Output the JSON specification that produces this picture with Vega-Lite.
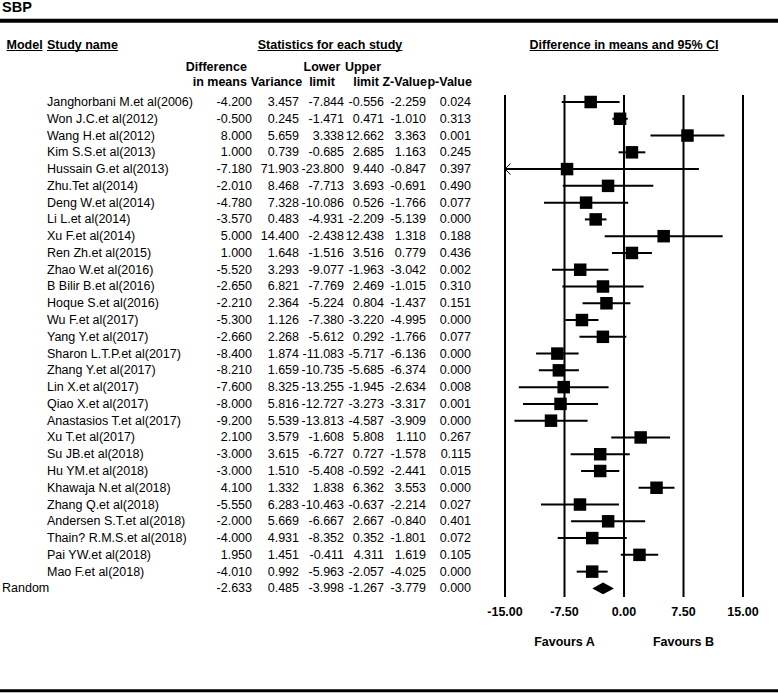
{
  "$schema": "https://vega.github.io/schema/vega-lite/v6.json",
  "width": 778,
  "height": 693,
  "autosize": "none",
  "padding": 0,
  "background": "white",
  "config": {
    "view": {"stroke": null},
    "locale": {"number": {"decimal": ".", "thousands": ",", "grouping": [3], "currency": ["$", ""], "minus": "-"}},
    "text": {"font": "Liberation Sans", "fontSize": 12.5, "color": "black", "baseline": "middle"},
    "rule": {"color": "black"}
  },
  "datasets": {
    "studies": [
      {"row": 1, "study": "Janghorbani M.et al(2006)", "diff": -4.2, "var": 3.457, "lower": -7.844, "upper": -0.556, "z": -2.259, "p": 0.024},
      {"row": 2, "study": "Won J.C.et al(2012)", "diff": -0.5, "var": 0.245, "lower": -1.471, "upper": 0.471, "z": -1.01, "p": 0.313},
      {"row": 3, "study": "Wang H.et al(2012)", "diff": 8.0, "var": 5.659, "lower": 3.338, "upper": 12.662, "z": 3.363, "p": 0.001},
      {"row": 4, "study": "Kim S.S.et al(2013)", "diff": 1.0, "var": 0.739, "lower": -0.685, "upper": 2.685, "z": 1.163, "p": 0.245},
      {"row": 5, "study": "Hussain G.et al(2013)", "diff": -7.18, "var": 71.903, "lower": -23.8, "upper": 9.44, "z": -0.847, "p": 0.397},
      {"row": 6, "study": "Zhu.Tet al(2014)", "diff": -2.01, "var": 8.468, "lower": -7.713, "upper": 3.693, "z": -0.691, "p": 0.49},
      {"row": 7, "study": "Deng W.et al(2014)", "diff": -4.78, "var": 7.328, "lower": -10.086, "upper": 0.526, "z": -1.766, "p": 0.077},
      {"row": 8, "study": "Li L.et al(2014)", "diff": -3.57, "var": 0.483, "lower": -4.931, "upper": -2.209, "z": -5.139, "p": 0.0},
      {"row": 9, "study": "Xu F.et al(2014)", "diff": 5.0, "var": 14.4, "lower": -2.438, "upper": 12.438, "z": 1.318, "p": 0.188},
      {"row": 10, "study": "Ren Zh.et al(2015)", "diff": 1.0, "var": 1.648, "lower": -1.516, "upper": 3.516, "z": 0.779, "p": 0.436},
      {"row": 11, "study": "Zhao W.et al(2016)", "diff": -5.52, "var": 3.293, "lower": -9.077, "upper": -1.963, "z": -3.042, "p": 0.002},
      {"row": 12, "study": "B Bilir B.et al(2016)", "diff": -2.65, "var": 6.821, "lower": -7.769, "upper": 2.469, "z": -1.015, "p": 0.31},
      {"row": 13, "study": "Hoque S.et al(2016)", "diff": -2.21, "var": 2.364, "lower": -5.224, "upper": 0.804, "z": -1.437, "p": 0.151},
      {"row": 14, "study": "Wu F.et al(2017)", "diff": -5.3, "var": 1.126, "lower": -7.38, "upper": -3.22, "z": -4.995, "p": 0.0},
      {"row": 15, "study": "Yang Y.et al(2017)", "diff": -2.66, "var": 2.268, "lower": -5.612, "upper": 0.292, "z": -1.766, "p": 0.077},
      {"row": 16, "study": "Sharon L.T.P.et al(2017)", "diff": -8.4, "var": 1.874, "lower": -11.083, "upper": -5.717, "z": -6.136, "p": 0.0},
      {"row": 17, "study": "Zhang Y.et al(2017)", "diff": -8.21, "var": 1.659, "lower": -10.735, "upper": -5.685, "z": -6.374, "p": 0.0},
      {"row": 18, "study": "Lin X.et al(2017)", "diff": -7.6, "var": 8.325, "lower": -13.255, "upper": -1.945, "z": -2.634, "p": 0.008},
      {"row": 19, "study": "Qiao X.et al(2017)", "diff": -8.0, "var": 5.816, "lower": -12.727, "upper": -3.273, "z": -3.317, "p": 0.001},
      {"row": 20, "study": "Anastasios T.et al(2017)", "diff": -9.2, "var": 5.539, "lower": -13.813, "upper": -4.587, "z": -3.909, "p": 0.0},
      {"row": 21, "study": "Xu T.et al(2017)", "diff": 2.1, "var": 3.579, "lower": -1.608, "upper": 5.808, "z": 1.11, "p": 0.267},
      {"row": 22, "study": "Su JB.et al(2018)", "diff": -3.0, "var": 3.615, "lower": -6.727, "upper": 0.727, "z": -1.578, "p": 0.115},
      {"row": 23, "study": "Hu YM.et al(2018)", "diff": -3.0, "var": 1.51, "lower": -5.408, "upper": -0.592, "z": -2.441, "p": 0.015},
      {"row": 24, "study": "Khawaja N.et al(2018)", "diff": 4.1, "var": 1.332, "lower": 1.838, "upper": 6.362, "z": 3.553, "p": 0.0},
      {"row": 25, "study": "Zhang Q.et al(2018)", "diff": -5.55, "var": 6.283, "lower": -10.463, "upper": -0.637, "z": -2.214, "p": 0.027},
      {"row": 26, "study": "Andersen S.T.et al(2018)", "diff": -2.0, "var": 5.669, "lower": -6.667, "upper": 2.667, "z": -0.84, "p": 0.401},
      {"row": 27, "study": "Thain? R.M.S.et al(2018)", "diff": -4.0, "var": 4.931, "lower": -8.352, "upper": 0.352, "z": -1.801, "p": 0.072},
      {"row": 28, "study": "Pai YW.et al(2018)", "diff": 1.95, "var": 1.451, "lower": -0.411, "upper": 4.311, "z": 1.619, "p": 0.105},
      {"row": 29, "study": "Mao F.et al(2018)", "diff": -4.01, "var": 0.992, "lower": -5.963, "upper": -2.057, "z": -4.025, "p": 0.0},
      {"row": 30, "study": "Random", "diff": -2.633, "var": 0.485, "lower": -3.998, "upper": -1.267, "z": -3.779, "p": 0.0}
    ],
    "ticks": [{"v": -15}, {"v": -7.5}, {"v": 0}, {"v": 7.5}, {"v": 15}],
    "favours": [{"v": -7.5, "label": "Favours A"}, {"v": 7.5, "label": "Favours B"}]
  },
  "resolve": {"scale": {"x": "independent"}},
  "layer": [
    {
      "layer": [
        {
          "data": {"name": "studies"},
          "transform": [{"filter": "datum.row < 30"}],
          "mark": {"type": "text", "align": "left"},
          "encoding": {
            "x": {"datum": 1, "type": "quantitative", "scale": {"domain": [0, 1, 2, 3, 4, 5, 6, 7], "range": [2, 47, 252, 299, 344, 384, 426, 471], "nice": false, "zero": false}, "axis": null},
            "y": {"field": "row", "type": "quantitative", "scale": {"domain": [1, 30], "range": [102, 588.4], "nice": false, "zero": false}, "axis": null},
            "text": {"field": "study"}
          }
        },
        {
          "data": {"name": "studies"},
          "transform": [{"filter": "datum.row == 30"}],
          "mark": {"type": "text", "align": "left"},
          "encoding": {
            "x": {"datum": 0, "type": "quantitative"},
            "y": {"field": "row", "type": "quantitative"},
            "text": {"field": "study"}
          }
        },
        {
          "data": {"name": "studies"},
          "mark": {"type": "text", "align": "right"},
          "encoding": {"x": {"datum": 2, "type": "quantitative"}, "y": {"field": "row", "type": "quantitative"}, "text": {"field": "diff", "type": "quantitative", "format": ".3f"}}
        },
        {
          "data": {"name": "studies"},
          "mark": {"type": "text", "align": "right"},
          "encoding": {"x": {"datum": 3, "type": "quantitative"}, "y": {"field": "row", "type": "quantitative"}, "text": {"field": "var", "type": "quantitative", "format": ".3f"}}
        },
        {
          "data": {"name": "studies"},
          "mark": {"type": "text", "align": "right"},
          "encoding": {"x": {"datum": 4, "type": "quantitative"}, "y": {"field": "row", "type": "quantitative"}, "text": {"field": "lower", "type": "quantitative", "format": ".3f"}}
        },
        {
          "data": {"name": "studies"},
          "mark": {"type": "text", "align": "right"},
          "encoding": {"x": {"datum": 5, "type": "quantitative"}, "y": {"field": "row", "type": "quantitative"}, "text": {"field": "upper", "type": "quantitative", "format": ".3f"}}
        },
        {
          "data": {"name": "studies"},
          "mark": {"type": "text", "align": "right"},
          "encoding": {"x": {"datum": 6, "type": "quantitative"}, "y": {"field": "row", "type": "quantitative"}, "text": {"field": "z", "type": "quantitative", "format": ".3f"}}
        },
        {
          "data": {"name": "studies"},
          "mark": {"type": "text", "align": "right"},
          "encoding": {"x": {"datum": 7, "type": "quantitative"}, "y": {"field": "row", "type": "quantitative"}, "text": {"field": "p", "type": "quantitative", "format": ".3f"}}
        },
        {
          "data": {"values": [{"label": "SBP"}]},
          "mark": {"type": "text", "align": "left", "fontWeight": "bold", "fontSize": 14.5},
          "encoding": {"x": {"datum": 0, "type": "quantitative"}, "y": {"datum": -4.587, "type": "quantitative"}, "text": {"field": "label"}}
        },
        {
          "data": {"values": [{"label": "Model"}]},
          "mark": {"type": "text", "align": "left", "fontWeight": "bold"},
          "encoding": {"x": {"datum": 0.1, "type": "quantitative"}, "y": {"datum": -2.399, "type": "quantitative"}, "text": {"field": "label"}}
        },
        {
          "data": {"values": [{"label": "Study name"}]},
          "mark": {"type": "text", "align": "left", "fontWeight": "bold"},
          "encoding": {"x": {"datum": 1, "type": "quantitative"}, "y": {"datum": -2.399, "type": "quantitative"}, "text": {"field": "label"}}
        },
        {
          "data": {"values": [{"label": "Statistics for each study"}]},
          "mark": {"type": "text", "align": "center", "fontWeight": "bold"},
          "encoding": {"x": {"datum": 3.689, "type": "quantitative"}, "y": {"datum": -2.399, "type": "quantitative"}, "text": {"field": "label"}}
        },
        {
          "data": {"values": [{"label": "Difference"}]},
          "mark": {"type": "text", "align": "right", "fontWeight": "bold"},
          "encoding": {"x": {"datum": 1.975, "type": "quantitative"}, "y": {"datum": -1.105, "type": "quantitative"}, "text": {"field": "label"}}
        },
        {
          "data": {"values": [{"label": "in means"}]},
          "mark": {"type": "text", "align": "right", "fontWeight": "bold"},
          "encoding": {"x": {"datum": 1.975, "type": "quantitative"}, "y": {"datum": -0.21, "type": "quantitative"}, "text": {"field": "label"}}
        },
        {
          "data": {"values": [{"label": "Variance"}]},
          "mark": {"type": "text", "align": "right", "fontWeight": "bold"},
          "encoding": {"x": {"datum": 3.07, "type": "quantitative"}, "y": {"datum": -0.21, "type": "quantitative"}, "text": {"field": "label"}}
        },
        {
          "data": {"values": [{"label": "Lower"}]},
          "mark": {"type": "text", "align": "center", "fontWeight": "bold"},
          "encoding": {"x": {"datum": 3.511, "type": "quantitative"}, "y": {"datum": -1.105, "type": "quantitative"}, "text": {"field": "label"}}
        },
        {
          "data": {"values": [{"label": "limit"}]},
          "mark": {"type": "text", "align": "center", "fontWeight": "bold"},
          "encoding": {"x": {"datum": 3.511, "type": "quantitative"}, "y": {"datum": -0.21, "type": "quantitative"}, "text": {"field": "label"}}
        },
        {
          "data": {"values": [{"label": "Upper"}]},
          "mark": {"type": "text", "align": "center", "fontWeight": "bold"},
          "encoding": {"x": {"datum": 4.475, "type": "quantitative"}, "y": {"datum": -1.105, "type": "quantitative"}, "text": {"field": "label"}}
        },
        {
          "data": {"values": [{"label": "limit"}]},
          "mark": {"type": "text", "align": "center", "fontWeight": "bold"},
          "encoding": {"x": {"datum": 4.55, "type": "quantitative"}, "y": {"datum": -0.21, "type": "quantitative"}, "text": {"field": "label"}}
        },
        {
          "data": {"values": [{"label": "Z-Value"}]},
          "mark": {"type": "text", "align": "right", "fontWeight": "bold"},
          "encoding": {"x": {"datum": 6.02, "type": "quantitative"}, "y": {"datum": -0.21, "type": "quantitative"}, "text": {"field": "label"}}
        },
        {
          "data": {"values": [{"label": "p-Value"}]},
          "mark": {"type": "text", "align": "right", "fontWeight": "bold"},
          "encoding": {"x": {"datum": 7.02, "type": "quantitative"}, "y": {"datum": -0.21, "type": "quantitative"}, "text": {"field": "label"}}
        },
        {
          "data": {"values": [{}]},
          "mark": {"type": "rule", "strokeWidth": 1},
          "encoding": {"x": {"datum": 0.1, "type": "quantitative"}, "x2": {"datum": 0.9}, "y": {"datum": -2.07, "type": "quantitative"}}
        },
        {
          "data": {"values": [{}]},
          "mark": {"type": "rule", "strokeWidth": 1},
          "encoding": {"x": {"datum": 1, "type": "quantitative"}, "x2": {"datum": 1.346}, "y": {"datum": -2.07, "type": "quantitative"}}
        },
        {
          "data": {"values": [{}]},
          "mark": {"type": "rule", "strokeWidth": 1},
          "encoding": {"x": {"datum": 2.121, "type": "quantitative"}, "x2": {"datum": 5.436}, "y": {"datum": -2.07, "type": "quantitative"}}
        },
        {
          "data": {"values": [{}]},
          "mark": {"type": "rule", "strokeWidth": 4},
          "encoding": {"y": {"datum": -3.847, "type": "quantitative"}}
        },
        {
          "data": {"values": [{}]},
          "mark": {"type": "rule", "strokeWidth": 3},
          "encoding": {"y": {"datum": 36.1, "type": "quantitative"}}
        }
      ]
    },
    {
      "layer": [
        {
          "data": {"name": "ticks"},
          "mark": {"type": "rule", "strokeWidth": 2},
          "encoding": {
            "x": {"field": "v", "type": "quantitative", "scale": {"domain": [-15, 15], "range": [505, 743], "clamp": true, "nice": false, "zero": false}, "axis": null},
            "y": {"datum": 0.583, "type": "quantitative"},
            "y2": {"datum": 30.513}
          }
        },
        {
          "data": {"name": "ticks"},
          "mark": {"type": "text", "align": "center", "fontWeight": "bold"},
          "encoding": {"x": {"field": "v", "type": "quantitative"}, "y": {"datum": 31.39, "type": "quantitative"}, "text": {"field": "v", "type": "quantitative", "format": ".2f"}}
        },
        {
          "data": {"name": "favours"},
          "mark": {"type": "text", "align": "center", "fontWeight": "bold"},
          "encoding": {"x": {"field": "v", "type": "quantitative"}, "y": {"datum": 33.18, "type": "quantitative"}, "text": {"field": "label"}}
        },
        {
          "data": {"values": [{"label": "Difference in means and 95% CI"}]},
          "mark": {"type": "text", "align": "center", "fontWeight": "bold"},
          "encoding": {"x": {"datum": 0, "type": "quantitative"}, "y": {"datum": -2.399, "type": "quantitative"}, "text": {"field": "label"}}
        },
        {
          "data": {"values": [{}]},
          "mark": {"type": "rule", "strokeWidth": 1},
          "encoding": {"x": {"datum": -11.9, "type": "quantitative"}, "x2": {"datum": 11.9}, "y": {"datum": -2.07, "type": "quantitative"}}
        },
        {
          "data": {"name": "studies"},
          "transform": [{"filter": "datum.row < 30"}],
          "mark": {"type": "rule", "strokeWidth": 2},
          "encoding": {"x": {"field": "lower", "type": "quantitative"}, "x2": {"field": "upper"}, "y": {"field": "row", "type": "quantitative"}}
        },
        {
          "data": {"name": "studies"},
          "transform": [{"filter": "datum.row < 30 && datum.lower < -15"}],
          "mark": {"type": "point", "shape": "M 0 0 L 1 -1 M 0 0 L 1 1", "filled": false, "size": 121, "strokeWidth": 1, "color": "black", "opacity": 1},
          "encoding": {"x": {"field": "lower", "type": "quantitative"}, "y": {"field": "row", "type": "quantitative"}}
        },
        {
          "data": {"name": "studies"},
          "transform": [{"filter": "datum.row < 30"}],
          "mark": {"type": "point", "shape": "square", "filled": true, "size": 156, "color": "black", "opacity": 1},
          "encoding": {"x": {"field": "diff", "type": "quantitative"}, "y": {"field": "row", "type": "quantitative"}}
        },
        {
          "data": {"name": "studies"},
          "transform": [{"filter": "datum.row == 30"}],
          "mark": {"type": "point", "shape": "M -1 0 L 0 -0.55 L 1 0 L 0 0.55 Z", "filled": true, "size": 469, "color": "black", "opacity": 1},
          "encoding": {"x": {"field": "diff", "type": "quantitative"}, "y": {"field": "row", "type": "quantitative"}}
        }
      ]
    }
  ]
}
